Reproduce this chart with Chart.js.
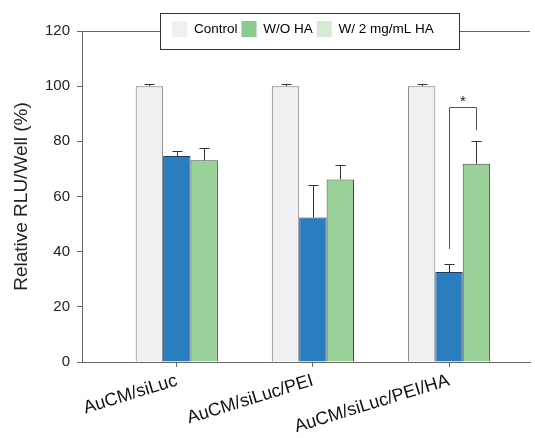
<!DOCTYPE html>
<html>
<head>
<meta charset="utf-8">
<script src="https://cdn.jsdelivr.net/npm/chart.js@4/dist/chart.umd.min.js"></script>
<style>
  html, body { margin: 0; padding: 0; background: #fff; }
  #wrap { width: 535px; height: 438px; }
</style>
</head>
<body>
<div id="wrap"><canvas id="c" width="535" height="438"></canvas></div>
<script>
// ---- data ----
const categories = ['AuCM/siLuc', 'AuCM/siLuc/PEI', 'AuCM/siLuc/PEI/HA'];
const seriesNames = ['Control', 'W/O HA', 'W/ 2 mg/mL HA'];
const controlValues = [100, 100, 100];
const controlErrors = [0.8, 0.8, 0.8];
const woHaValues = [74.7, 52.4, 32.6];
const woHaErrors = [1.8, 11.7, 3.1];
const haValues = [73.1, 66.2, 71.9];
const haErrors = [4.4, 5.1, 8.1];
const yTickValues = [0, 20, 40, 60, 80, 100, 120];
// significance bracket between W/O HA and W/ HA in the 3rd group: [left end, top, right end]
const sigGroup = 2;
const sigBracket = [41, 92.5, 84];
const sigLabel = '*';

// ---- styles ----
const FONT = "'Liberation Sans', Arial, Helvetica, sans-serif";
const barFill = ['#eef0f1', '#2a7dbf', '#99d199'];
const barBorder = ['#7a7a7a', '#1d3d5e', '#3f4a3f'];
const legendSwatch = ['#eef0f2', '#8cc98c', '#d3ebd3'];
const axisColor = '#666';

const xPos = categories.map((_, i) => i + 1);
const mk = (vals) => vals.map((v, i) => ({ x: xPos[i], y: v }));
const allErrors = [controlErrors, woHaErrors, haErrors];

const errorBarPlugin = {
  id: 'errorBars',
  afterDatasetsDraw(chart) {
    const ctx = chart.ctx;
    const ys = chart.scales.y;
    ctx.save();
    ctx.strokeStyle = '#333';
    ctx.lineWidth = 1;
    chart.data.datasets.forEach((ds, di) => {
      const meta = chart.getDatasetMeta(di);
      meta.data.forEach((bar, j) => {
        const v = ds.data[j].y;
        const e = allErrors[di][j];
        const x = Math.round(bar.x) + 0.5;
        const yTop = Math.round(ys.getPixelForValue(v + e)) + 0.5;
        const yBar = ys.getPixelForValue(v);
        ctx.beginPath();
        ctx.moveTo(x, yBar);
        ctx.lineTo(x, yTop);
        ctx.moveTo(x - 5, yTop);
        ctx.lineTo(x + 5, yTop);
        ctx.stroke();
      });
    });
    // significance bracket
    const bl = chart.getDatasetMeta(1).data[sigGroup];
    const br = chart.getDatasetMeta(2).data[sigGroup];
    const xl = Math.round(bl.x) + 0.5, xr = Math.round(br.x) + 0.5;
    const yl = ys.getPixelForValue(sigBracket[0]);
    const yt = Math.round(ys.getPixelForValue(sigBracket[1])) + 0.5;
    const yr = ys.getPixelForValue(sigBracket[2]);
    ctx.strokeStyle = '#555';
    ctx.beginPath();
    ctx.moveTo(xl, yl); ctx.lineTo(xl, yt); ctx.lineTo(xr, yt); ctx.lineTo(xr, yr);
    ctx.stroke();
    ctx.fillStyle = '#222';
    ctx.font = '15px ' + FONT;
    ctx.textAlign = 'center';
    ctx.textBaseline = 'alphabetic';
    ctx.fillText(sigLabel, (xl + xr) / 2, yt - 2);
    ctx.restore();
  }
};

const legendShift = { dx: 38, dy: 16 };
const frameAndLegendBox = {
  id: 'frameLegendBox',
  afterLayout(chart) {
    const lg = chart.legend;
    lg.left += legendShift.dx; lg.right += legendShift.dx;
    lg.top += legendShift.dy; lg.bottom += legendShift.dy;
  },
  beforeDraw(chart) {
    const ctx = chart.ctx;
    const ca = chart.chartArea;
    ctx.save();
    // top frame line
    ctx.strokeStyle = axisColor;
    ctx.lineWidth = 1;
    ctx.beginPath();
    ctx.moveTo(ca.left, Math.round(ca.top) + 0.5);
    ctx.lineTo(ca.right, Math.round(ca.top) + 0.5);
    ctx.stroke();
    // legend box
    const lg = chart.legend;
    const pad = lg.options.labels.padding;
    const start = (lg.left + pad + lg.right - lg.lineWidths[0]) / 2;
    const bx = Math.round(start - 12) + 0.5;
    const bw = Math.round(lg.lineWidths[0] - pad + 37);
    const by = 13.5, bh = 36;
    ctx.fillStyle = '#fff';
    ctx.fillRect(bx, by, bw, bh);
    ctx.strokeStyle = '#333';
    ctx.strokeRect(bx, by, bw, bh);
    ctx.restore();
  }
};

new Chart(document.getElementById('c'), {
  type: 'bar',
  data: {
    datasets: [controlValues, woHaValues, haValues].map((vals, i) => ({
      label: seriesNames[i],
      data: mk(vals),
      backgroundColor: barFill[i],
      borderColor: barBorder[i],
      borderWidth: 1,
      barPercentage: 1,
      categoryPercentage: 0.604
    }))
  },
  options: {
    responsive: false,
    animation: false,
    devicePixelRatio: 1,
    layout: { padding: { top: 1, right: 5, left: 0, bottom: 0 } },
    plugins: {
      tooltip: { enabled: false },
      legend: {
        display: true,
        position: 'top',
        align: 'center',
        labels: {
          boxWidth: 15,
          boxHeight: 16,
          padding: 4,
          color: '#222',
          font: { family: FONT, size: 13.5 },
          generateLabels: (chart) => seriesNames.map((n, i) => ({
            text: n,
            fillStyle: legendSwatch[i],
            strokeStyle: legendSwatch[i],
            lineWidth: 0,
            hidden: false,
            datasetIndex: i
          }))
        }
      }
    },
    scales: {
      x: {
        type: 'linear',
        min: 0.3035,
        max: 3.595,
        offset: false,
        afterBuildTicks: (s) => { s.ticks = xPos.map(v => ({ value: v })); },
        afterFit: (s) => { s.height = 76; },
        border: { display: true, color: axisColor, width: 1 },
        grid: { display: true, offset: false, drawOnChartArea: false, drawTicks: true, tickLength: 5, color: axisColor },
        ticks: {
          autoSkip: false,
          minRotation: 17,
          maxRotation: 17,
          padding: 3,
          color: '#111',
          font: { family: FONT, size: 18 },
          callback: (v) => categories[xPos.indexOf(v)] ?? ''
        }
      },
      y: {
        min: 0,
        max: 120,
        afterBuildTicks: (s) => { s.ticks = yTickValues.map(v => ({ value: v })); },
        afterFit: (s) => { s.width = 82; },
        border: { display: true, color: axisColor, width: 1 },
        grid: {
          display: true,
          drawOnChartArea: true,
          drawTicks: true,
          tickLength: 5,
          color: 'rgba(0,0,0,0)',
          tickColor: axisColor
        },
        ticks: {
          padding: 7,
          color: '#222',
          font: { family: FONT, size: 15 }
        },
        title: {
          display: true,
          text: 'Relative RLU/Well (%)',
          color: '#222',
          font: { family: FONT, size: 19 },
          padding: { top: 10, bottom: 0 }
        }
      }
    }
  },
  plugins: [frameAndLegendBox, errorBarPlugin]
});
</script>
</body>
</html>
